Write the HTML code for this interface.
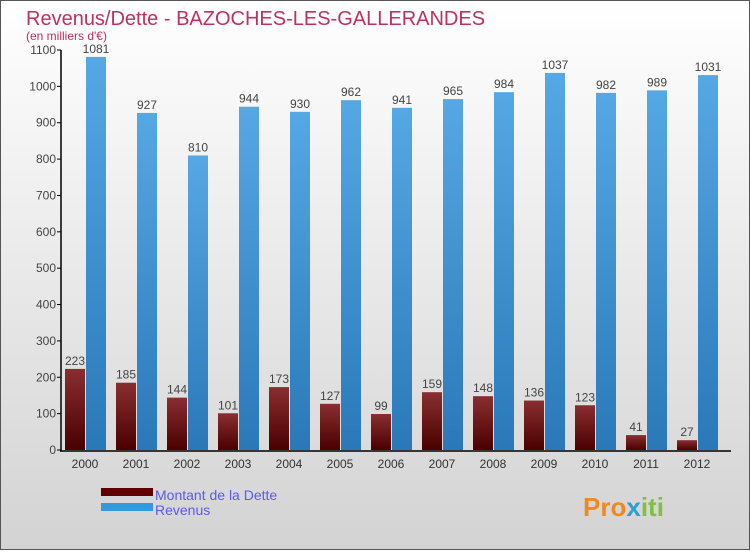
<!DOCTYPE html>
<html><head><meta charset="utf-8"><style>
html,body{margin:0;padding:0}
body{width:750px;height:550px;overflow:hidden;font-family:"Liberation Sans",sans-serif}
#wrap{position:relative;width:748px;height:548px;border:1px solid #555;background:linear-gradient(#ffffff,#d3d3d3)}
</style></head><body>
<div id="wrap">
<svg id="c" width="748" height="548">
<defs>
<linearGradient id="gd" x1="0" y1="0" x2="0" y2="1"><stop offset="0" stop-color="#8a2e30"/><stop offset="1" stop-color="#4a0000"/></linearGradient>
<linearGradient id="gr" x1="0" y1="0" x2="0" y2="1"><stop offset="0" stop-color="#56a8e4"/><stop offset="1" stop-color="#2a78b8"/></linearGradient>
</defs>
<text x="25" y="24" font-size="20" fill="#c0305f">Revenus/Dette - BAZOCHES-LES-GALLERANDES</text>
<text x="25" y="39" font-size="12" fill="#c0305f">(en milliers d'€)</text>
<g id="plot"></g>
<rect x="100" y="487" width="52" height="8" fill="#600000"/>
<text x="154" y="499" font-size="14" fill="#5a5aee">Montant de la Dette</text>
<rect x="100" y="502" width="52" height="8" fill="#3399e0"/>
<text x="154" y="514" font-size="14" fill="#5a5aee">Revenus</text>
<text x="582" y="515" font-size="26" font-weight="bold" fill="#f08a20">Pro<tspan fill="#2aa0d8">x</tspan><tspan fill="#80c040">iti</tspan></text>
</svg>
</div>
<script>
const years=["2000","2001","2002","2003","2004","2005","2006","2007","2008","2009","2010","2011","2012"];
const dette=[223,185,144,101,173,127,99,159,148,136,123,41,27];
const revenus=[1081,927,810,944,930,962,941,965,984,1037,982,989,1031];
const yTicks=[0,100,200,300,400,500,600,700,800,900,1000,1100];
const NS="http://www.w3.org/2000/svg";
const g=document.getElementById('plot');
const y=v=>449-v*400/1100;
const x0=i=>64+i*51;
function mk(t,a,txt){const e=document.createElementNS(NS,t);for(const k in a)e.setAttribute(k,a[k]);if(txt!=null)e.textContent=txt;g.appendChild(e);return e;}
years.forEach((yr,i)=>{
 const xd=x0(i);
 let e=mk('rect',{x:xd,y:y(dette[i]),width:20,height:449-y(dette[i]),fill:'url(#gd)'});
 
 
 e=mk('rect',{x:xd+21,y:y(revenus[i]),width:20,height:449-y(revenus[i]),fill:'url(#gr)'});
 
 
 e=mk('text',{x:xd+10,y:y(dette[i])-4,'font-size':12,fill:'#444','text-anchor':'middle'},dette[i]);
 
 
 e=mk('text',{x:xd+31,y:y(revenus[i])-4,'font-size':12,fill:'#444','text-anchor':'middle'},revenus[i]);
 
 
 e=mk('text',{x:xd+20,y:467,'font-size':12,fill:'#333','text-anchor':'middle'},yr);
 
 
});
yTicks.forEach(v=>{
 let e=mk('line',{x1:56,x2:60,y1:y(v),y2:y(v),stroke:'#000'});
 
 
 e=mk('text',{x:55,y:y(v)+4,'font-size':12,fill:'#444','text-anchor':'end'},v);
 
 
});
let a=mk('line',{x1:60,x2:60,y1:49,y2:450,stroke:'#000','stroke-width':1.5});


a=mk('line',{x1:59,x2:730,y1:450,y2:450,stroke:'#000','stroke-width':1.5});


</script>
</body></html>
